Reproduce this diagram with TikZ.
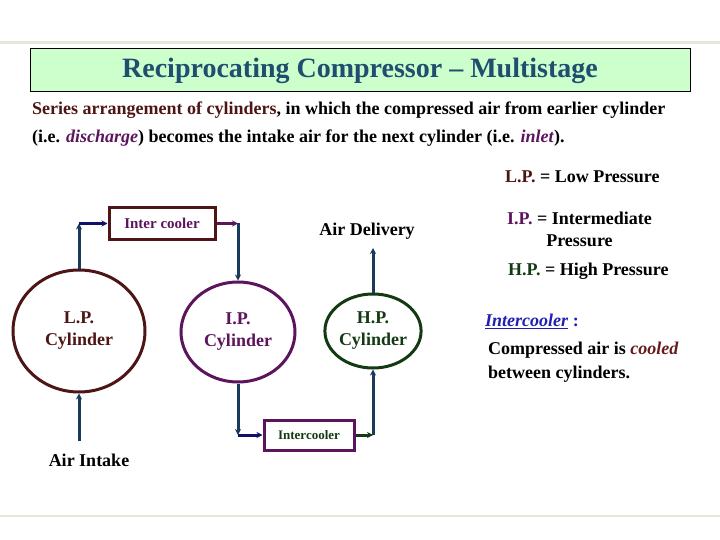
\documentclass[tikz,border=0pt]{standalone}
\usepackage{fontspec}
\setmainfont{Liberation Serif}
\usetikzlibrary{shapes.geometric,arrows.meta}
\definecolor{titlegreen}{HTML}{CCFFCC}
\definecolor{titleblue}{HTML}{1F4E6E}
\definecolor{maroon}{HTML}{4D1515}
\definecolor{plum}{HTML}{5C145C}
\definecolor{dgreen}{HTML}{143A14}
\definecolor{navy}{HTML}{1A3A5C}
\definecolor{dnavy}{HTML}{10106A}
\definecolor{rulegray}{HTML}{E6E6DC}
\definecolor{linkblue}{HTML}{2020B0}
\definecolor{cooledred}{HTML}{661A1A}
\begin{document}
\begin{tikzpicture}[x=1pt,y=-1pt,
  every node/.style={font=\bfseries},
  cyl/.style={ellipse, draw, line width=3pt, inner sep=0pt, align=center, font=\fontsize{18}{22}\selectfont\bfseries},
  icbox/.style={draw, line width=3pt, inner sep=0pt},
  flow/.style={line width=3pt, -{Stealth[length=6pt,width=6pt]}},
  bodytext/.style={anchor=west, inner sep=0pt, font=\fontsize{18}{22}\selectfont\bfseries}]
\useasboundingbox (0,0) rectangle (720,540);
\fill[rulegray] (0,41.5) rectangle (720,44);
\fill[rulegray] (0,514.5) rectangle (720,517);
\node[draw, line width=1pt, fill=titlegreen, minimum width=660pt, minimum height=43pt, anchor=north west, inner sep=0pt] (titlebox) at (30,48) {};
\node[text=titleblue, font=\fontsize{28}{32}\selectfont\bfseries] (title) at (360,71) {Reciprocating Compressor – Multistage};
\node[bodytext] (line1) at (32,110) {\textcolor{maroon}{Series arrangement of cylinders}, in which the compressed air from earlier cylinder};
\node[bodytext] (line2) at (32,138) {(i.e. \textcolor{plum}{\textit{discharge}}) becomes the intake air for the next cylinder (i.e. \textcolor{plum}{\textit{inlet}}).};
% legend
\node[bodytext] (lpdef) at (505,177) {\textcolor{maroon}{L.P.} = Low Pressure};
\node[bodytext, anchor=north west, align=center] (ipdef) at (507,212) {\textcolor{plum}{I.P.} = Intermediate\\Pressure};
\node[bodytext] (hpdef) at (508,271) {\textcolor{dgreen}{H.P.} = High Pressure};
\node[bodytext, text=linkblue] (icdef) at (485,321) {\underline{\textit{Intercooler}} :};
\node[bodytext, anchor=north west, align=left, font=\fontsize{18}{24}\selectfont\bfseries] (icexp) at (488,342) {Compressed air is \textcolor{cooledred}{\textit{cooled}}\\between cylinders.};
% cylinders
\node[cyl, draw=maroon, text=maroon, minimum width=132pt, minimum height=122pt] (lp) at (79,331) {L.P.\\Cylinder};
\node[cyl, draw=plum, text=plum, minimum width=114pt, minimum height=100pt] (ip) at (238,332) {I.P.\\Cylinder};
\node[cyl, draw=dgreen, text=dgreen, minimum width=84pt, minimum height=74pt] (hp) at (373,331) {H.P.\\Cylinder};
% intercoolers
\node[icbox, draw=maroon, text=plum, minimum width=106pt, minimum height=31pt, font=\fontsize{15}{17}\selectfont\bfseries] (ic1) at (162,223.5) {Inter cooler};
\node[icbox, draw=plum, text=dgreen, minimum width=90pt, minimum height=30pt, font=\fontsize{13}{15}\selectfont\bfseries] (ic2) at (309,435) {Intercooler};
% labels
\node[font=\fontsize{18}{22}\selectfont\bfseries] (airdel) at (367,231) {Air Delivery};
\node[font=\fontsize{18}{22}\selectfont\bfseries] (airin) at (89,460) {Air Intake};
% coordinates
\coordinate (c1) at (79,223.5);
\coordinate (c2) at (238,223.5);
\coordinate (c3) at (238,435);
\coordinate (c4) at (373,435);
\coordinate (delend) at (373,248);
\coordinate (inend) at (79,441);
% flows
\draw[flow, navy] (lp.north) -- (c1);
\draw[flow, dnavy] (c1) -- (ic1.west);
\draw[flow, plum] (ic1.east) -- (c2);
\draw[flow, navy] (c2) -- (ip.north);
\draw[flow, navy] (ip.south) -- (c3);
\draw[flow, dnavy] (c3) -- (ic2.west);
\draw[flow, dgreen] (ic2.east) -- (c4);
\draw[flow, navy] (c4) -- (hp.south);
\draw[flow, navy] (hp.north) -- (delend);
\draw[flow, navy] (inend) -- (lp.south);
\end{tikzpicture}
\end{document}
